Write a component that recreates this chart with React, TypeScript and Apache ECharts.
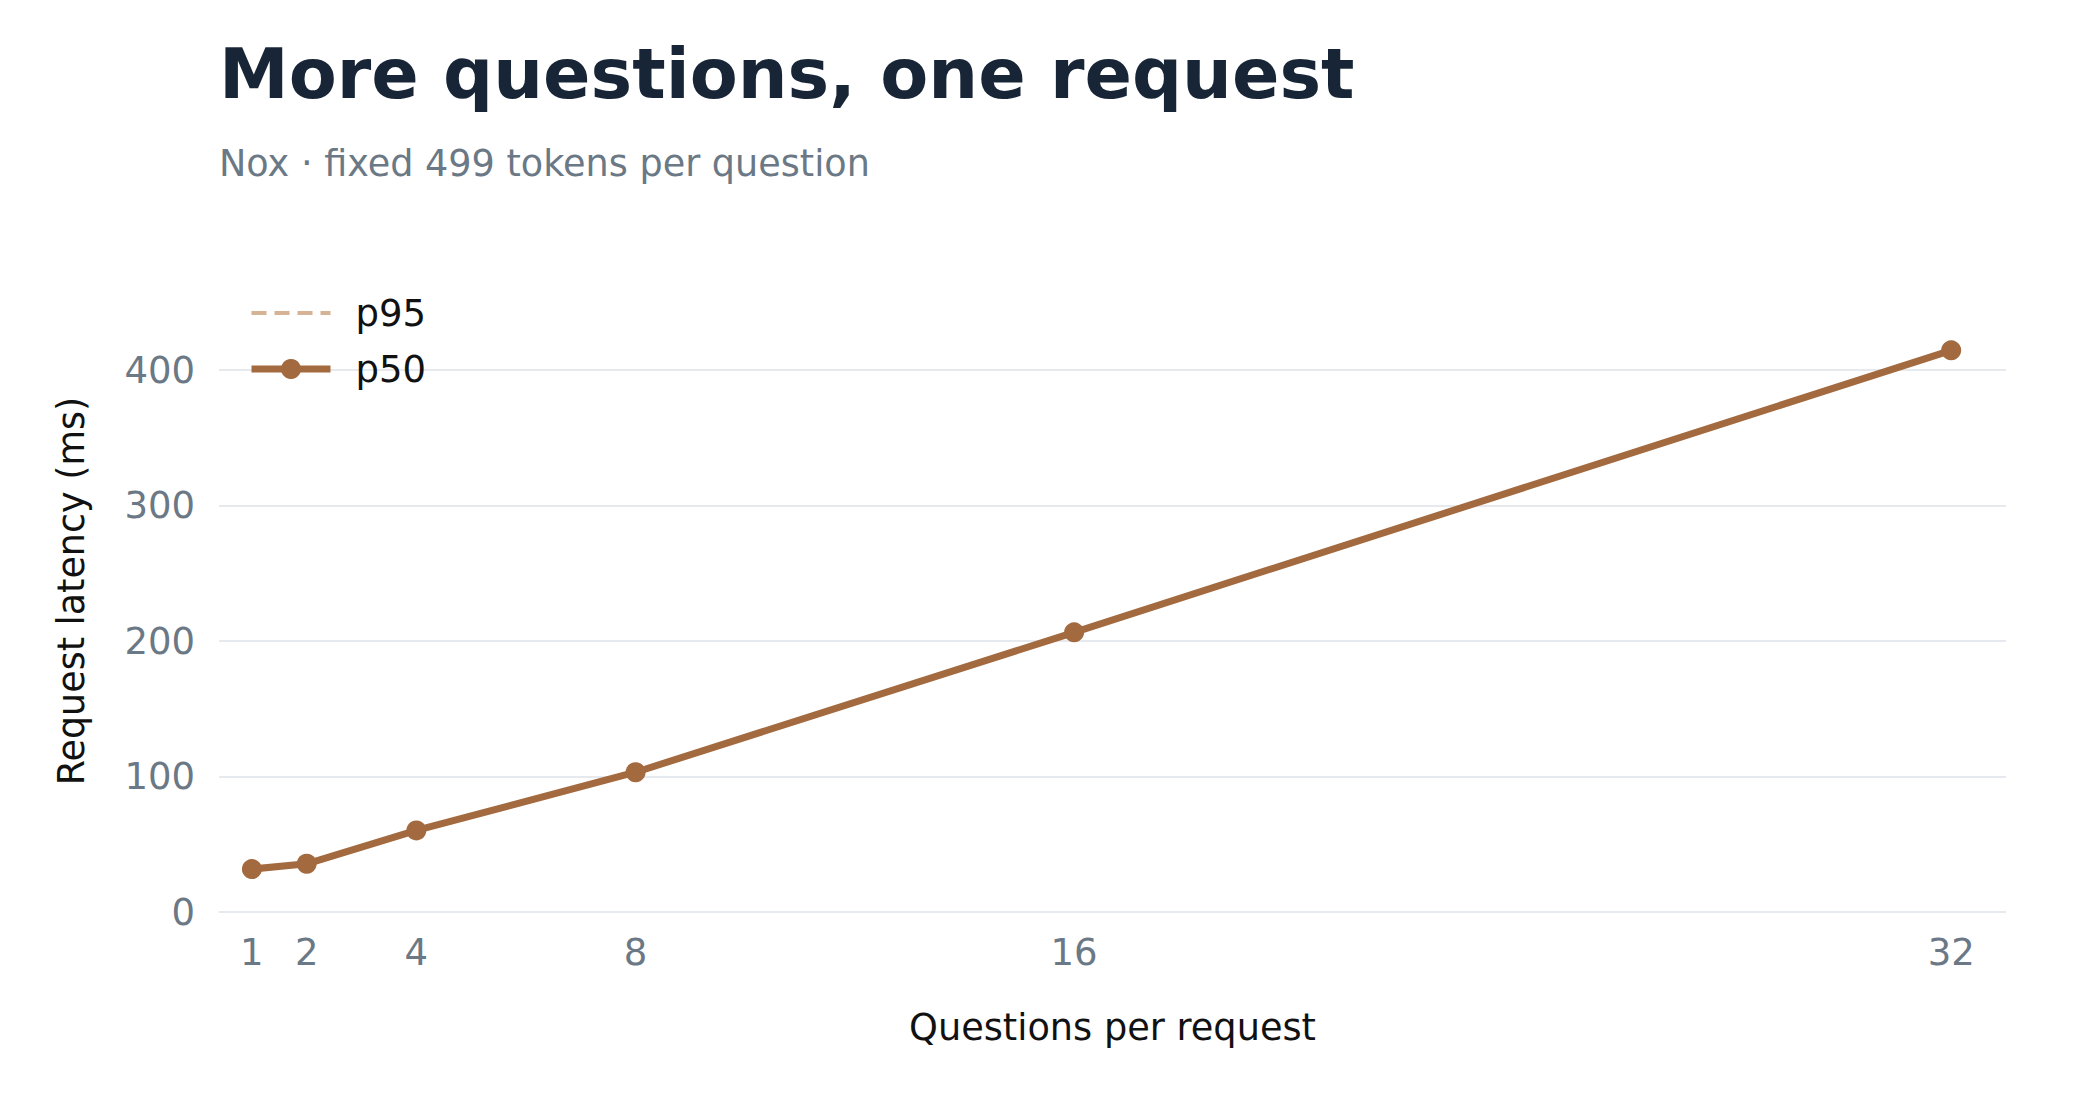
import React, { useEffect, useRef } from "react";
import * as echarts from "echarts";

const questions = [1, 2, 4, 8, 16, 32];
const p50 = [31.7, 35.6, 60.2, 103.2, 206.5, 414.7];
const p95 = [31.7, 35.6, 60.2, 103.2, 206.5, 414.7];
const xTicks = [1, 2, 4, 8, 16, 32];
const seriesNames = ["p95", "p50"];

const TITLE = "More questions, one request";
const SUBTITLE = "Nox · fixed 499 tokens per question";
const X_NAME = "Questions per request";
const Y_NAME = "Request latency (ms)";

const FONT = "DejaVu Sans";
const BROWN = "#a36a3f";
const TAN = "#d5b394";
const SLATE = "#6b7885";
const GRID = "#e6e9ed";

export default function App() {
  const ref = useRef<HTMLDivElement>(null);
  useEffect(() => {
    if (!ref.current) return;
    const chart = echarts.init(ref.current, undefined, { renderer: "svg" });
    chart.setOption({
      animation: false,
      backgroundColor: "#ffffff",
      textStyle: { fontFamily: FONT },
      graphic: [
        {
          type: "text",
          x: 219,
          y: 74,
          style: {
            text: TITLE,
            fontFamily: FONT,
            fontSize: 70,
            fontWeight: "bold",
            fill: "#172536",
            verticalAlign: "middle",
            align: "left",
          },
        },
        {
          type: "text",
          x: 219,
          y: 163,
          style: {
            text: SUBTITLE,
            fontFamily: FONT,
            fontSize: 36.6,
            fill: SLATE,
            verticalAlign: "middle",
            align: "left",
          },
        },
      ],
      legend: {
        orient: "vertical",
        left: 248,
        top: 294,
        padding: 0,
        itemWidth: 79,
        itemHeight: 25,
        itemGap: 18,
        data: [
          {
            name: seriesNames[0],
            lineStyle: { width: 4, type: [15, 8], color: TAN },
            itemStyle: { color: "transparent", borderWidth: 0, opacity: 0 },
          },
          {
            name: seriesNames[1],
            lineStyle: { width: 7, type: "solid", color: BROWN },
            itemStyle: { color: BROWN },
          },
        ],
        textStyle: {
          fontFamily: FONT,
          fontSize: 37,
          color: "#111111",
          lineHeight: 38,
          padding: [0, 0, 0, 20],
        },
      },
      grid: { left: 219, right: 84, top: 270, bottom: 188 },
      xAxis: {
        type: "value",
        min: 0.4,
        max: 33,
        name: X_NAME,
        nameLocation: "middle",
        nameGap: 97,
        nameTextStyle: { fontFamily: FONT, fontSize: 36.7, color: "#111111" },
        axisLine: { show: false },
        axisTick: { show: false },
        splitLine: { show: false },
        axisLabel: {
          customValues: xTicks,
          margin: 22,
          fontFamily: FONT,
          fontSize: 37,
          color: SLATE,
        },
      },
      yAxis: {
        type: "value",
        min: 0,
        max: 474,
        interval: 100,
        name: Y_NAME,
        nameLocation: "middle",
        nameGap: 129,
        nameTextStyle: { fontFamily: FONT, fontSize: 36.5, color: "#111111" },
        axisLine: { show: false },
        axisTick: { show: false },
        axisLabel: {
          margin: 24,
          fontFamily: FONT,
          fontSize: 37,
          color: SLATE,
          showMaxLabel: false,
        },
        splitLine: {
          show: true,
          showMaxLine: false,
          lineStyle: { color: GRID, width: 2 },
        },
      },
      series: [
        {
          name: "p95",
          type: "line",
          data: questions.map((q, i) => [q, p95[i]]),
          symbol: "none",
          lineStyle: { color: TAN, width: 4, type: [15, 8] },
          itemStyle: { color: TAN },
          z: 2,
        },
        {
          name: "p50",
          type: "line",
          data: questions.map((q, i) => [q, p50[i]]),
          symbol: "circle",
          symbolSize: 20,
          lineStyle: { color: BROWN, width: 7 },
          itemStyle: { color: BROWN },
          z: 3,
        },
      ],
    });
    return () => chart.dispose();
  }, []);
  return (
    <div
      ref={ref}
      style={{ position: "fixed", left: 0, top: 0, width: 2090, height: 1100, background: "#fff" }}
    />
  );
}
